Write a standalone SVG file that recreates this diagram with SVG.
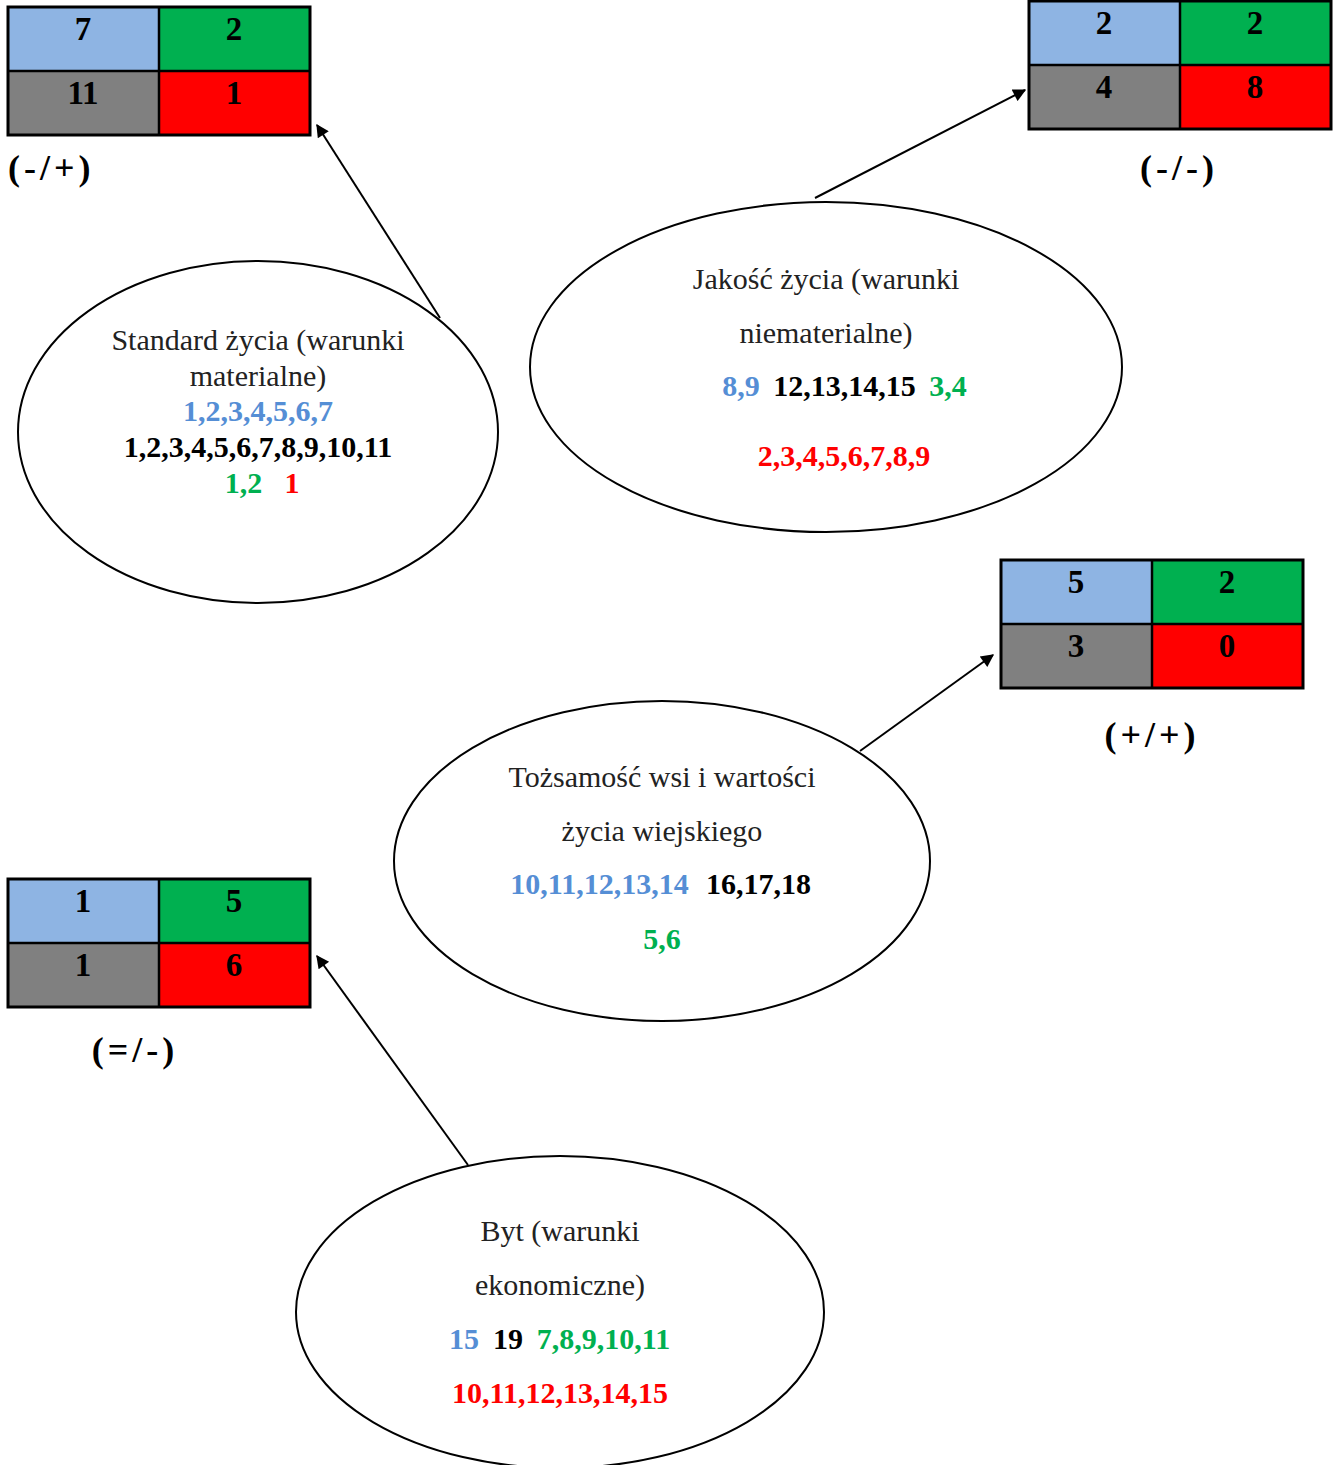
<svg xmlns="http://www.w3.org/2000/svg" width="1338" height="1465" viewBox="0 0 1338 1465">
<style>
.bg{fill:#fff}
.cb{fill:#8EB4E3}.cg{fill:#00B050}.cy{fill:#808080}.cr{fill:#FF0000}
.frame{fill:none;stroke:#000;stroke-width:3}
.grid{stroke:#000;stroke-width:2.5}
.num{font-family:"Liberation Serif",serif;font-weight:bold;font-size:33px;text-anchor:middle;fill:#000}
.lbl{font-family:"Liberation Serif",serif;font-weight:bold;font-size:36px;letter-spacing:4px;fill:#000}
.ell{fill:none;stroke:#000;stroke-width:2}
.t{font-family:"Liberation Serif",serif;font-size:30px;text-anchor:middle;fill:#222}
.b{font-family:"Liberation Serif",serif;font-weight:bold;font-size:30px;text-anchor:middle}
.blue{fill:#558ED5}.black{fill:#000}.green{fill:#00B050}.red{fill:#FF0000}
.con{stroke:#000;stroke-width:2;fill:none;marker-end:url(#ah)}
</style>
<defs>
<marker id="ah" viewBox="0 0 10 10" refX="9" refY="5" markerWidth="15" markerHeight="13" markerUnits="userSpaceOnUse" orient="auto">
<path d="M0,0 L10,5 L0,10 z" fill="#000"/>
</marker>
</defs>
<rect class="bg" width="1338" height="1465"/>

<g id="table-minus-plus">
<rect class="cb" x="8" y="7" width="151" height="64"/>
<rect class="cg" x="159" y="7" width="151" height="64"/>
<rect class="cy" x="8" y="71" width="151" height="64"/>
<rect class="cr" x="159" y="71" width="151" height="64"/>
<line class="grid" x1="159" y1="7" x2="159" y2="135"/>
<line class="grid" x1="8" y1="71" x2="310" y2="71"/>
<rect class="frame" x="8" y="7" width="302" height="128"/>
<text class="num" x="83" y="40">7</text>
<text class="num" x="234" y="40">2</text>
<text class="num" x="83" y="104">11</text>
<text class="num" x="234" y="104">1</text>
<text class="lbl" x="8" y="180">(-/+)</text>
</g>

<g id="table-minus-minus">
<rect class="cb" x="1029" y="1" width="151" height="64"/>
<rect class="cg" x="1180" y="1" width="151" height="64"/>
<rect class="cy" x="1029" y="65" width="151" height="64"/>
<rect class="cr" x="1180" y="65" width="151" height="64"/>
<line class="grid" x1="1180" y1="1" x2="1180" y2="129"/>
<line class="grid" x1="1029" y1="65" x2="1331" y2="65"/>
<rect class="frame" x="1029" y="1" width="302" height="128"/>
<text class="num" x="1104" y="34">2</text>
<text class="num" x="1255" y="34">2</text>
<text class="num" x="1104" y="98">4</text>
<text class="num" x="1255" y="98">8</text>
<text class="lbl" x="1179" y="180" text-anchor="middle">(-/-)</text>
</g>

<g id="table-plus-plus">
<rect class="cb" x="1001" y="560" width="151" height="64"/>
<rect class="cg" x="1152" y="560" width="151" height="64"/>
<rect class="cy" x="1001" y="624" width="151" height="64"/>
<rect class="cr" x="1152" y="624" width="151" height="64"/>
<line class="grid" x1="1152" y1="560" x2="1152" y2="688"/>
<line class="grid" x1="1001" y1="624" x2="1303" y2="624"/>
<rect class="frame" x="1001" y="560" width="302" height="128"/>
<text class="num" x="1076" y="593">5</text>
<text class="num" x="1227" y="593">2</text>
<text class="num" x="1076" y="657">3</text>
<text class="num" x="1227" y="657">0</text>
<text class="lbl" x="1152" y="747" text-anchor="middle">(+/+)</text>
</g>

<g id="table-eq-minus">
<rect class="cb" x="8" y="879" width="151" height="64"/>
<rect class="cg" x="159" y="879" width="151" height="64"/>
<rect class="cy" x="8" y="943" width="151" height="64"/>
<rect class="cr" x="159" y="943" width="151" height="64"/>
<line class="grid" x1="159" y1="879" x2="159" y2="1007"/>
<line class="grid" x1="8" y1="943" x2="310" y2="943"/>
<rect class="frame" x="8" y="879" width="302" height="128"/>
<text class="num" x="83" y="912">1</text>
<text class="num" x="234" y="912">5</text>
<text class="num" x="83" y="976">1</text>
<text class="num" x="234" y="976">6</text>
<text class="lbl" x="135" y="1062" text-anchor="middle">(=/-)</text>
</g>

<g id="node-standard">
<ellipse class="ell" cx="258" cy="432" rx="240" ry="171"/>
<text class="t" x="258" y="350">Standard życia (warunki</text>
<text class="t" x="258" y="386">materialne)</text>
<text class="b blue" x="258" y="421">1,2,3,4,5,6,7</text>
<text class="b black" x="258" y="457">1,2,3,4,5,6,7,8,9,10,11</text>
<text class="b green" x="243.5" y="493">1,2</text>
<text class="b red" x="292" y="493">1</text>
</g>

<g id="node-jakosc">
<ellipse class="ell" cx="826" cy="367" rx="296" ry="165"/>
<text class="t" x="826" y="289">Jakość życia (warunki</text>
<text class="t" x="826" y="343">niematerialne)</text>
<text class="b blue" x="741" y="396">8,9</text>
<text class="b black" x="844.5" y="396">12,13,14,15</text>
<text class="b green" x="948" y="396">3,4</text>
<text class="b red" x="844" y="466">2,3,4,5,6,7,8,9</text>
</g>

<g id="node-tozsamosc">
<ellipse class="ell" cx="662" cy="861" rx="268" ry="160"/>
<text class="t" x="662" y="787">Tożsamość wsi i wartości</text>
<text class="t" x="662" y="841">życia wiejskiego</text>
<text class="b blue" x="599.5" y="894">10,11,12,13,14</text>
<text class="b black" x="758.5" y="894">16,17,18</text>
<text class="b green" x="662" y="949">5,6</text>
</g>

<g id="node-byt">
<ellipse class="ell" cx="560" cy="1312" rx="264" ry="156"/>
<text class="t" x="560" y="1241">Byt (warunki</text>
<text class="t" x="560" y="1295">ekonomiczne)</text>
<text class="b blue" x="464" y="1349">15</text>
<text class="b black" x="508" y="1349">19</text>
<text class="b green" x="603.5" y="1349">7,8,9,10,11</text>
<text class="b red" x="560" y="1403">10,11,12,13,14,15</text>
</g>

<g id="connectors">
<line class="con" x1="440" y1="318" x2="317" y2="125"/>
<line class="con" x1="815" y1="198" x2="1025" y2="90"/>
<line class="con" x1="860" y1="751" x2="993" y2="655"/>
<line class="con" x1="468" y1="1165" x2="317" y2="956"/>
</g>
</svg>
